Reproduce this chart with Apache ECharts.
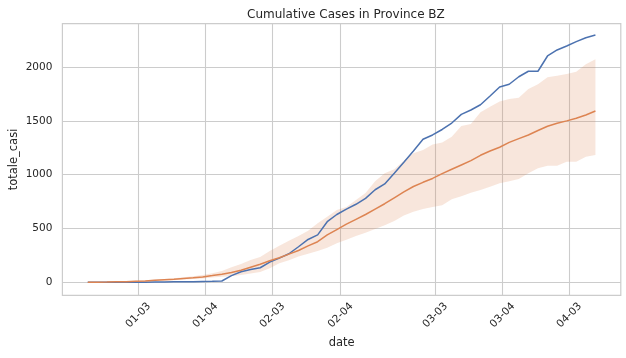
<!DOCTYPE html>
<html>

<head>
  <meta charset="utf-8">
  <title>Cumulative Cases in Province BZ</title>
  <style>
    html, body { margin: 0; padding: 0; background: #fff; }
    #chart { width: 626px; height: 358px; }
  </style>
</head>

<body>
  <div id="chart"></div>
  <script src="https://cdn.jsdelivr.net/npm/echarts@6/dist/echarts.min.js"></script>
  <script type="text/javascript">
    // day index of each observation (one per day)
    var days = [0, 1, 2, 3, 4, 5, 6, 7, 8, 9, 10, 11, 12, 13, 14, 15, 16, 17, 18, 19,
      20, 21, 22, 23, 24, 25, 26, 27, 28, 29, 30, 31, 32, 33, 34, 35, 36, 37, 38, 39,
      40, 41, 42, 43, 44, 45, 46, 47, 48, 49, 50, 51, 52, 53];

    // observed totale_casi (blue)
    var observed = [0, 0, 1, 1, 1, 1, 1, 2, 3, 4, 4, 5, 8, 9, 12, 62, 98, 118, 135, 188,
      225, 265, 330, 398, 440, 563, 630, 680, 725, 780, 860, 914, 1013, 1115, 1220, 1329, 1369, 1420, 1480, 1560,
      1601, 1650, 1731, 1815, 1840, 1910, 1961, 1961, 2103, 2159, 2196, 2236, 2273, 2298];

    // model mean (orange) and its band
    var modelMean = [0, 1, 2, 4, 6, 10, 13, 18, 23, 28, 35, 42, 50, 62, 75, 90, 112, 140, 168, 200,
      228, 262, 295, 338, 377, 440, 490, 540, 585, 630, 680, 730, 785, 840, 890, 929, 965, 1010, 1050, 1090,
      1130, 1180, 1220, 1255, 1300, 1335, 1369, 1410, 1450, 1478, 1500, 1524, 1555, 1592];
    var bandUpper = [0, 2, 4, 6, 9, 14, 18, 24, 30, 37, 46, 56, 68, 85, 105, 139, 170, 207, 235, 290,
      340, 385, 430, 480, 548, 610, 672, 700, 765, 830, 940, 1013, 1050, 1130, 1199, 1230, 1280, 1300, 1353, 1453,
      1471, 1580, 1632, 1680, 1704, 1716, 1797, 1840, 1905, 1920, 1935, 1957, 2026, 2072];
    var bandLower = [0, 0, 1, 2, 3, 6, 8, 12, 16, 20, 25, 30, 36, 45, 52, 55, 68, 82, 95, 130,
      176, 205, 240, 265, 290, 320, 362, 395, 430, 461, 495, 530, 570, 620, 656, 680, 700, 715, 771, 800,
      833, 858, 888, 920, 940, 960, 1013, 1060, 1084, 1084, 1121, 1121, 1167, 1183];

    // x tick positions (in days) and their labels
    var tickDays = [5.28, 12.28, 19.28, 26.4, 36.28, 43.3, 50.28];
    var tickLabels = ['01-03', '01-04', '02-03', '02-04', '03-03', '03-04', '04-03'];
    var yTicks = [0, 500, 1000, 1500, 2000];

    var textColor = '#262626';
    var gridColor = '#cccccc';
    var font = 'DejaVu Sans';

    function pairs(ys) {
      return days.map(function (d, i) { return [d, ys[i]]; });
    }

    var chart = echarts.init(document.getElementById('chart'), null, { renderer: 'canvas' });

    var option = {
      backgroundColor: '#ffffff',
      animation: false,
      textStyle: { fontFamily: font },
      title: {
        text: 'Cumulative Cases in Province BZ',
        left: 242,
        top: 4,
        textStyle: { fontSize: 12, fontWeight: 'normal', color: textColor, fontFamily: font }
      },
      grid: {
        left: 62.4,
        right: 5.2,
        top: 23.7,
        bottom: 62.7,
        show: true,
        borderColor: gridColor,
        borderWidth: 1.2,
        containLabel: false,
        outerBoundsMode: 'none'
      },
      xAxis: {
        type: 'value',
        min: -2.65,
        max: 55.65,
        name: 'date',
        nameLocation: 'middle',
        nameGap: 42,
        nameMoveOverlap: false,
        nameTextStyle: { fontSize: 11.5, color: textColor, fontFamily: font },
        axisLine: { show: false },
        axisTick: { show: false, customValues: tickDays },
        axisLabel: {
          customValues: tickDays,
          rotate: 45,
          align: 'center',
          verticalAlign: 'middle',
          margin: 20,
          fontSize: 10.5,
          color: textColor,
          fontFamily: font,
          formatter: function (v) {
            for (var i = 0; i < tickDays.length; i++) {
              if (Math.abs(tickDays[i] - v) < 1e-6) return tickLabels[i];
            }
            return '';
          }
        },
        splitLine: { show: true, lineStyle: { color: gridColor, width: 1.1 } }
      },
      yAxis: {
        type: 'value',
        min: -121,
        max: 2403,
        name: 'totale_casi',
        nameLocation: 'middle',
        nameGap: 42,
        nameMoveOverlap: false,
        nameTextStyle: { fontSize: 11.5, color: textColor, fontFamily: font },
        axisLine: { show: false },
        axisTick: { show: false, customValues: yTicks },
        axisLabel: {
          customValues: yTicks,
          margin: 10,
          fontSize: 10.5,
          color: textColor,
          fontFamily: font,
          formatter: function (v) { return String(v); }
        },
        splitLine: { show: true, lineStyle: { color: gridColor, width: 1.1 } }
      },
      series: [
        {
          name: 'band',
          type: 'custom',
          data: [[0]],
          silent: true,
          renderItem: function (params, api) {
            var pts = [];
            for (var i = 0; i < days.length; i++) pts.push(api.coord([days[i], bandUpper[i]]));
            for (var j = days.length - 1; j >= 0; j--) pts.push(api.coord([days[j], bandLower[j]]));
            return {
              type: 'polygon',
              shape: { points: pts },
              style: { fill: 'rgba(221,132,82,0.2)', stroke: null }
            };
          },
          z: 1
        },
        {
          name: 'observed',
          type: 'line',
          data: pairs(observed),
          showSymbol: false,
          lineStyle: { color: '#4c72b0', width: 1.5 },
          itemStyle: { color: '#4c72b0' },
          z: 2
        },
        {
          name: 'model',
          type: 'line',
          data: pairs(modelMean),
          showSymbol: false,
          lineStyle: { color: '#dd8452', width: 1.5 },
          itemStyle: { color: '#dd8452' },
          z: 3
        }
      ]
    };

    chart.setOption(option);
    window.addEventListener('resize', chart.resize);
  </script>
</body>

</html>
